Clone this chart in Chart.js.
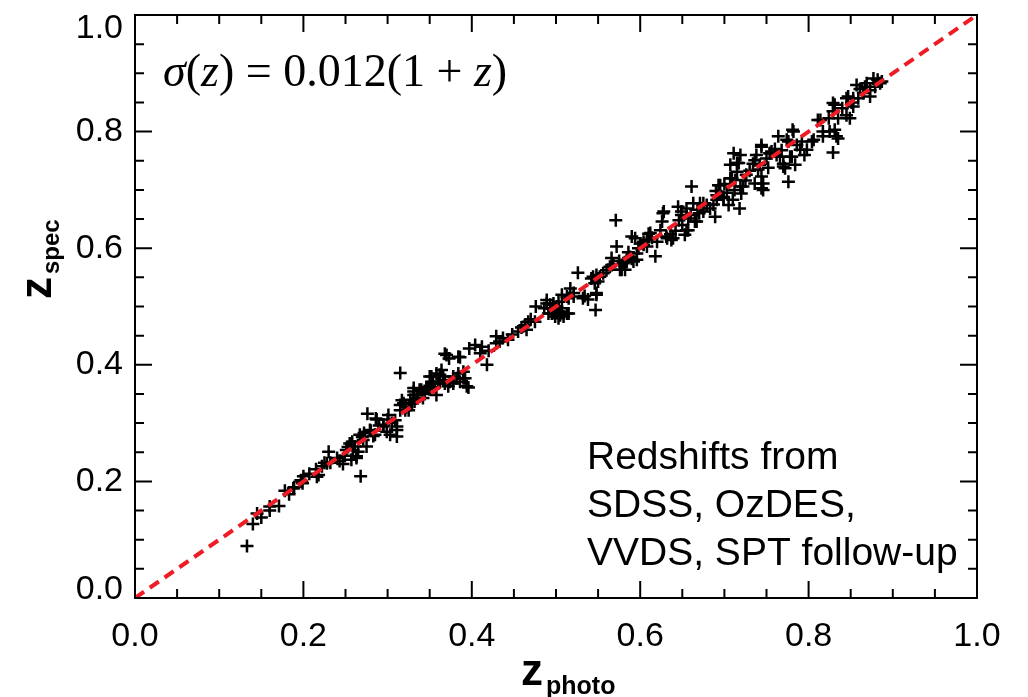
<!DOCTYPE html>
<html>
<head>
<meta charset="utf-8">
<script src="https://cdn.jsdelivr.net/npm/chart.js@4.4.0/dist/chart.umd.min.js"></script>
<style>
  body { margin: 0; background: #fff; }
  #wrap { width: 1028px; height: 697px; }
</style>
</head>
<body>
<div id="wrap"><canvas id="zChart"></canvas></div>
<script>
// photometric vs spectroscopic redshifts
var zPhoto = [
  0.133,0.140,0.145,0.150,0.160,0.160,0.171,0.178,0.183,0.189,
  0.197,0.200,0.199,0.215,0.216,0.225,0.230,0.232,0.243,0.247,
  0.251,0.255,0.257,0.261,0.263,0.265,0.267,0.268,0.271,0.275,
  0.276,0.280,0.286,0.285,0.188,0.198,0.218,0.228,0.253,0.259,
  0.263,0.270,0.287,0.279,0.283,0.295,0.299,0.301,0.303,0.311,
  0.311,0.309,0.315,0.315,0.319,0.317,0.325,0.327,0.331,0.332,
  0.338,0.342,0.344,0.350,0.352,0.353,0.358,0.364,0.362,0.366,
  0.358,0.372,0.378,0.386,0.390,0.396,0.390,0.368,0.373,0.386,
  0.397,0.410,0.412,0.418,0.429,0.331,0.346,0.404,0.429,0.433,
  0.443,0.455,0.463,0.465,0.467,0.476,0.489,0.493,0.497,0.495,
  0.501,0.505,0.509,0.499,0.513,0.517,0.521,0.532,0.534,0.526,
  0.546,0.544,0.548,0.547,0.552,0.556,0.566,0.572,0.580,0.584,
  0.588,0.590,0.592,0.596,0.600,0.608,0.513,0.578,0.571,0.610,
  0.618,0.624,0.628,0.626,0.632,0.639,0.645,0.649,0.653,0.655,
  0.657,0.661,0.663,0.665,0.668,0.675,0.679,0.689,0.691,0.695,
  0.699,0.710,0.713,0.715,0.719,0.720,0.718,0.711,0.719,0.734,
  0.738,0.736,0.744,0.744,0.750,0.754,0.762,0.770,0.776,0.784,
  0.707,0.715,0.736,0.744,0.746,0.756,0.764,0.768,0.774,0.772,
  0.781,0.780,0.790,0.798,0.806,0.811,0.817,0.824,0.829,0.829,
  0.831,0.835,0.829,0.845,0.847,0.849,0.853,0.859,0.857,0.865,
  0.869,0.873,0.877,0.879,0.887,0.295,0.311,0.315,0.321,0.331,
  0.335,0.340,0.348,0.350,0.354,0.362,0.360,0.368,0.374,0.382,
  0.392,0.394,0.370,0.384,0.475,0.489,0.491,0.503,0.505,0.515,
  0.507,0.515,0.521,0.538,0.542,0.548,0.550,0.548,0.564,0.576,
  0.582,0.584,0.590,0.596,0.594,0.604,0.608,0.612,0.620,0.627,
  0.631,0.637,0.649,0.655,0.657,0.667,0.671,0.675,0.691,0.693,
  0.699,0.705,0.709,0.707,0.722,0.717,0.742,0.744,0.746,0.754,
  0.770,0.776,0.778,0.782,0.792,0.804,0.814,0.817,0.825,0.831,
  0.833,0.835,0.845,0.853,0.873,0.885,0.493,0.486,0.500,0.507,
  0.497,0.503,0.636,0.642,0.650,0.660,0.646,0.670,0.683,0.687,
  0.760,0.766,0.786,0.795,0.752,0.740,0.730,0.726,0.322,0.329,
  0.336,0.344,0.356,0.366,0.378,0.384,0.305,0.290,0.300,0.240,
  0.249,0.258,0.272,0.207,0.222,0.861,0.851,0.867,0.840,0.882,
  0.560,0.568,0.575,0.586,0.598,0.604,0.614,0.703,0.712,0.725,
  0.700,0.690,0.420,0.437,0.448,0.459,0.470
];
var zSpec = [
  0.089,0.127,0.145,0.138,0.150,0.157,0.158,0.184,0.178,0.190,
  0.202,0.209,0.197,0.221,0.208,0.232,0.251,0.232,0.235,0.230,
  0.254,0.265,0.237,0.260,0.240,0.251,0.280,0.209,0.271,0.260,
  0.316,0.287,0.308,0.280,0.188,0.200,0.211,0.231,0.259,0.254,
  0.243,0.276,0.306,0.288,0.278,0.294,0.285,0.314,0.280,0.288,
  0.277,0.305,0.386,0.322,0.334,0.339,0.322,0.340,0.348,0.337,
  0.357,0.343,0.350,0.358,0.380,0.368,0.385,0.391,0.371,0.380,
  0.348,0.363,0.368,0.371,0.377,0.361,0.388,0.419,0.411,0.413,
  0.428,0.420,0.431,0.400,0.437,0.360,0.362,0.434,0.449,0.440,
  0.443,0.457,0.468,0.460,0.474,0.500,0.511,0.497,0.505,0.488,
  0.500,0.485,0.483,0.483,0.517,0.531,0.523,0.514,0.518,0.558,
  0.540,0.551,0.520,0.494,0.551,0.557,0.583,0.603,0.574,0.580,
  0.585,0.620,0.577,0.591,0.608,0.614,0.488,0.563,0.648,0.625,
  0.586,0.631,0.663,0.646,0.617,0.617,0.671,0.663,0.623,0.631,
  0.651,0.706,0.677,0.646,0.666,0.663,0.674,0.654,0.683,0.708,
  0.688,0.683,0.717,0.731,0.706,0.694,0.668,0.763,0.760,0.745,
  0.760,0.711,0.723,0.703,0.754,0.763,0.760,0.745,0.714,0.743,
  0.720,0.746,0.751,0.777,0.700,0.766,0.792,0.768,0.786,0.737,
  0.803,0.757,0.769,0.769,0.786,0.820,0.792,0.823,0.849,0.835,
  0.803,0.788,0.764,0.828,0.860,0.823,0.857,0.857,0.880,0.866,
  0.883,0.860,0.891,0.877,0.886,0.297,0.294,0.331,0.322,0.354,
  0.343,0.357,0.360,0.380,0.371,0.383,0.368,0.368,0.371,0.377,
  0.377,0.363,0.417,0.414,0.474,0.505,0.488,0.480,0.491,0.488,
  0.520,0.514,0.517,0.512,0.548,0.554,0.543,0.523,0.568,0.563,
  0.563,0.577,0.582,0.580,0.617,0.611,0.603,0.626,0.611,0.660,
  0.620,0.614,0.657,0.668,0.631,0.646,0.677,0.677,0.691,0.708,
  0.686,0.674,0.720,0.743,0.706,0.746,0.743,0.774,0.711,0.763,
  0.740,0.783,0.757,0.800,0.783,0.783,0.820,0.800,0.800,0.846,
  0.792,0.823,0.857,0.843,0.871,0.883,0.503,0.497,0.492,0.497,
  0.494,0.508,0.624,0.630,0.640,0.657,0.648,0.660,0.668,0.675,
  0.770,0.757,0.777,0.760,0.738,0.735,0.733,0.726,0.327,0.333,
  0.349,0.355,0.362,0.374,0.380,0.385,0.300,0.296,0.306,0.240,
  0.244,0.268,0.283,0.213,0.226,0.873,0.850,0.877,0.840,0.889,
  0.562,0.572,0.578,0.593,0.600,0.606,0.618,0.695,0.700,0.716,
  0.710,0.698,0.424,0.446,0.452,0.464,0.478
];
var oneToOne = [0, 1];
var tickValues = [0, 0.2, 0.4, 0.6, 0.8, 1.0];
var noteLines = ["Redshifts from", "SDSS, OzDES,", "VVDS, SPT follow-up"];

var points = [];
for (var i in zPhoto) {
  points.push({x: zPhoto[i], y: zSpec[i]});
}

// end labels of the y axis sit inside the frame, like the original
var endLabels = {
  id: 'endLabels',
  beforeDraw: function(chart) {
    var ys = chart.scales.y, a = chart.chartArea;
    var items = ys.getLabelItems();
    if (!items.length) return;
    var first = items[0].options, last = items[items.length - 1].options;
    first.textBaseline = 'alphabetic';
    first.translation[1] = a.bottom + 1;
    last.textBaseline = 'alphabetic';
    last.translation[1] = a.top + 23;
  }
};

// frame with inward ticks on all four sides
var framePlugin = {
  id: 'frame',
  afterDatasetsDraw: function(chart) {
    var ctx = chart.ctx, a = chart.chartArea;
    var xs = chart.scales.x, ys = chart.scales.y;
    ctx.save();
    ctx.strokeStyle = '#000';
    ctx.lineWidth = 2;
    ctx.strokeRect(a.left, a.top, a.right - a.left, a.bottom - a.top);
    ctx.beginPath();
    for (var k = 0; k <= 20; k++) {
      var v = k * 0.05;
      var len = (k % 4 === 0) ? 17 : 9;
      var px = xs.getPixelForValue(v);
      ctx.moveTo(px, a.bottom); ctx.lineTo(px, a.bottom - len);
      ctx.moveTo(px, a.top); ctx.lineTo(px, a.top + len);
      var py = ys.getPixelForValue(v);
      ctx.moveTo(a.left, py); ctx.lineTo(a.left + len, py);
      ctx.moveTo(a.right, py); ctx.lineTo(a.right - len, py);
    }
    ctx.stroke();
    ctx.restore();
  }
};

// axis titles with subscripts, the formula and the note
var textPlugin = {
  id: 'texts',
  afterDraw: function(chart) {
    var ctx = chart.ctx;
    ctx.save();
    ctx.fillStyle = '#000';
    ctx.textBaseline = 'alphabetic';
    ctx.textAlign = 'left';

    // x title
    ctx.font = 'bold 44px "Liberation Sans", Arial';
    var zw = ctx.measureText('z').width;
    ctx.fillText('z', 521, 685);
    ctx.font = 'bold 25px "Liberation Sans", Arial';
    ctx.fillText('photo', 521 + zw + 3, 694);

    // y title
    ctx.save();
    ctx.translate(51, 299);
    ctx.rotate(-Math.PI / 2);
    ctx.font = 'bold 44px "Liberation Sans", Arial';
    ctx.fillText('z', 0, 0);
    ctx.font = 'bold 24px "Liberation Sans", Arial';
    ctx.fillText('spec', zw + 3, 8);
    ctx.restore();

    // formula
    var parts = [['\u03C3', true], ['(', false], ['z', true], [')', false], [' = ', false],
                 ['0.012(1', false], [' + ', false], ['z', true], [')', false]];
    var fx = 163;
    for (var p in parts) {
      ctx.font = (parts[p][1] ? 'italic ' : '') + '46px "Liberation Serif", "Times New Roman"';
      ctx.fillText(parts[p][0], fx, 86);
      fx += ctx.measureText(parts[p][0]).width;
    }

    // note
    ctx.font = '39px "Liberation Sans", Arial';
    for (var n in noteLines) {
      ctx.fillText(noteLines[n], 587, 469 + n * 48);
    }
    ctx.restore();
  }
};

var ctx = document.getElementById('zChart');
var zChart = new Chart(ctx, {
  type: 'scatter',
  data: {
    datasets: [
      {
        label: 'one to one',
        data: oneToOne.map(function(v) { return {x: v, y: v}; }),
        showLine: true,
        borderColor: '#ee1c25',
        borderWidth: 4,
        borderDash: [11, 7],
        pointRadius: 0,
        order: 0
      },
      {
        label: 'galaxies',
        data: points,
        pointStyle: 'cross',
        pointRadius: 6.5,
        borderColor: '#000',
        backgroundColor: '#000',
        borderWidth: 2.5,
        order: 1
      }
    ]
  },
  options: {
    responsive: true,
    maintainAspectRatio: false,
    animation: false,
    layout: { padding: { top: 15, right: 51, left: 0, bottom: 0 } },
    plugins: { legend: { display: false }, tooltip: { enabled: false } },
    scales: {
      x: {
        type: 'linear', min: 0, max: 1,
        grid: { display: false, drawTicks: false },
        border: { display: false },
        afterBuildTicks: function(scale) {
          scale.ticks = tickValues.map(function(v) { return {value: v}; });
        },
        afterFit: function(scale) { scale.height = 99; },
        ticks: {
          padding: 18,
          color: '#000',
          font: { family: '"Liberation Sans", Arial', size: 34 },
          callback: function(v) { return Number(v).toFixed(1); }
        }
      },
      y: {
        type: 'linear', min: 0, max: 1,
        grid: { display: false, drawTicks: false },
        border: { display: false },
        afterBuildTicks: function(scale) {
          scale.ticks = tickValues.map(function(v) { return {value: v}; });
        },
        afterFit: function(scale) {
          scale.width = 135;
          scale.paddingTop = 0;
          scale.paddingBottom = 0;
        },
        ticks: {
          padding: 12,
          color: '#000',
          font: { family: '"Liberation Sans", Arial', size: 34 },
          callback: function(v) { return Number(v).toFixed(1); }
        }
      }
    }
  },
  plugins: [endLabels, framePlugin, textPlugin]
});
</script>
</body>
</html>
